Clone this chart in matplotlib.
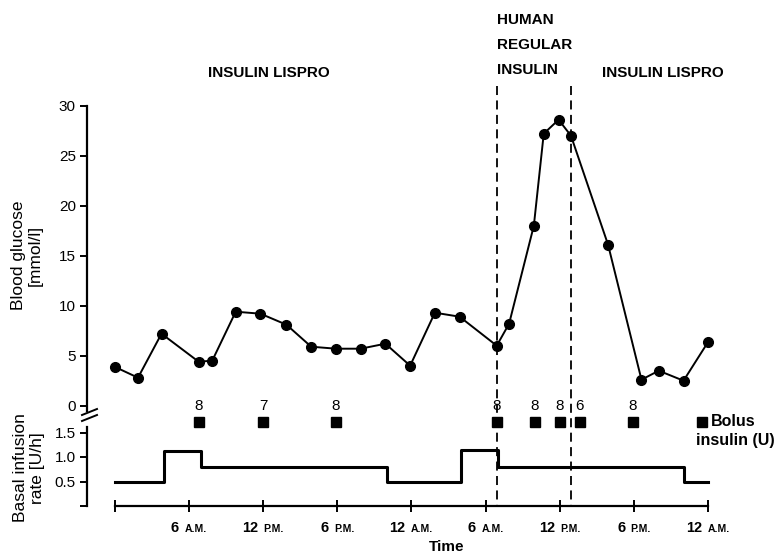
import matplotlib
matplotlib.use("Agg")
import matplotlib.pyplot as plt
from matplotlib.lines import Line2D
from matplotlib.offsetbox import TextArea, HPacker, AnnotationBbox
from matplotlib.transforms import blended_transform_factory

plt.rcParams['font.family'] = ['Liberation Sans', 'DejaVu Sans']

# blood glucose readings (hours from first midnight, mmol/l)
hours = [0, 1.9, 3.8, 6.8, 7.9, 9.8, 11.8, 13.9, 15.9, 17.9, 19.9, 21.9, 23.9,
         25.9, 27.9, 30.9, 31.9, 33.9, 34.7, 35.9, 36.9, 39.9, 42.6, 44.0, 46.0, 48.0]
glucose = [3.9, 2.8, 7.2, 4.4, 4.5, 9.4, 9.2, 8.1, 5.9, 5.7, 5.7, 6.2, 4.0,
           9.3, 8.9, 6.0, 8.2, 18.0, 27.2, 28.6, 27.0, 16.1, 2.6, 3.5, 2.5, 6.4]

# basal infusion rate, step changes (U/h)
basal_t = [0, 4, 7, 22, 28, 31, 46, 48]
basal_r = [0.5, 1.13, 0.8, 0.5, 1.15, 0.8, 0.5, 0.5]

# bolus insulin doses
bolus_t = [6.8, 12, 17.9, 30.9, 34, 36, 37.6, 41.9]
bolus_u = [8, 7, 8, 8, 8, 8, 6, 8]

# period with human regular insulin
switch_t = [30.9, 36.9]

tick_h = [6, 12, 18, 24, 30, 36, 42, 48]
tick_num = ['6', '12', '6', '12', '6', '12', '6', '12']
tick_suf = ['A.M.', 'P.M.', 'P.M.', 'A.M.', 'A.M.', 'P.M.', 'P.M.', 'A.M.']

W, H = 781, 555
fig = plt.figure(figsize=(W / 100, H / 100), dpi=100)

def fx(x):
    return x / W

def fy(y):
    return 1 - y / H

# pixel mapping: x = 114.5 + 12.37*h
x0, sx = 114.5, 12.37
left_px, right_px = 87, 730
xl = ((left_px - x0) / sx, (right_px - x0) / sx)
axw = right_px - left_px

# glucose axes: 0 at y=405.7, 10 px per mmol/l
g0, gs = 405.7, 10.0
top1, bot1 = 100, 412
ax1 = fig.add_axes([fx(left_px), fy(bot1), axw / W, (bot1 - top1) / H])
ax1.set_xlim(xl)
ax1.set_ylim((g0 - bot1) / gs, (g0 - top1) / gs)

# basal axes: 0 at y=506, 49 px per U/h
b0, bs = 506, 49.0
top2 = 395
ax2 = fig.add_axes([fx(left_px), fy(b0), axw / W, (b0 - top2) / H])
ax2.set_xlim(xl)
ax2.set_ylim(0, (b0 - top2) / bs)

for ax in (ax1, ax2):
    ax.patch.set_visible(False)
    for s in ('top', 'right'):
        ax.spines[s].set_visible(False)
    ax.spines['left'].set_linewidth(1.6)

ax1.spines['bottom'].set_visible(False)
ax1.spines['left'].set_bounds((g0 - 411) / gs, 30)
ax1.set_xticks([])
ax1.set_yticks([0, 5, 10, 15, 20, 25, 30])
ax1.tick_params(axis='y', direction='out', length=5, width=1.4, labelsize=11, pad=3)

ax1.plot(hours, glucose, color='black', lw=1.4, marker='o', ms=7, clip_on=False, zorder=3)
ax1.set_ylabel('Blood glucose\n[mmol/l]', fontsize=12.5, linespacing=1.1, va='center')
ax1.yaxis.set_label_coords((27 - left_px) / axw, (bot1 - 255) / (bot1 - top1))

ax2.step(basal_t, basal_r, where='post', color='black', lw=2.2, clip_on=False)
ax2.spines['left'].set_bounds(0, (b0 - 427) / bs)
ax2.spines['bottom'].set_bounds(0, 48)
ax2.spines['bottom'].set_linewidth(1.6)
ax2.set_yticks([0, 0.5, 1.0, 1.5])
ax2.set_yticklabels(['', '0.5', '1.0', '1.5'])
ax2.tick_params(axis='y', direction='out', length=5, width=1.4, labelsize=11, pad=3)
ax2.set_xticks([0] + tick_h)
ax2.set_xticklabels([])
ax2.tick_params(axis='x', direction='inout', length=8, width=1.4)
ax2.set_ylabel('Basal infusion\nrate [U/h]', fontsize=12.5, linespacing=1.1, va='center')
ax2.yaxis.set_label_coords((29 - left_px) / axw, (b0 - 468) / (b0 - top2))

# time tick labels with small caps suffix
for h, n, s in zip(tick_h, tick_num, tick_suf):
    box = HPacker(children=[TextArea(n, textprops=dict(fontsize=10.5, fontweight='bold')),
                            TextArea(s, textprops=dict(fontsize=7.5, fontweight='bold'))],
                  align='baseline', pad=0, sep=4)
    ab = AnnotationBbox(box, (h, 0), xycoords=('data', 'axes fraction'),
                        xybox=(0, -11), boxcoords='offset points',
                        box_alignment=(0.5, 1), frameon=False, annotation_clip=False)
    ax2.add_artist(ab)
fig.text(fx(447), fy(547), 'Time', ha='center', va='center', fontsize=11, fontweight='bold')

# bolus doses
sq_y = (b0 - 422) / bs
ax2.plot(bolus_t, [sq_y] * len(bolus_t), ls='none', marker='s', ms=6.5, color='black', clip_on=False)
for t, u in zip(bolus_t, bolus_u):
    ax2.text(t, (b0 - 413) / bs, str(u), ha='center', va='bottom', fontsize=11)
ax2.plot([(702 - x0) / sx], [sq_y], ls='none', marker='s', ms=7.5, color='black', clip_on=False)
ax2.text((711 - x0) / sx, sq_y, 'Bolus', ha='left', va='center', fontsize=11.5, fontweight='bold')
ax2.text((696 - x0) / sx, (b0 - 441) / bs, 'insulin (U)', ha='left', va='center',
         fontsize=11.5, fontweight='bold')

# dashed lines marking human regular insulin period
tr = blended_transform_factory(ax1.transData, fig.transFigure)
for t in switch_t:
    fig.add_artist(Line2D([t, t], [fy(86), fy(506)], transform=tr, color='black',
                          lw=1.3, ls=(0, (5, 3))))

# axis break marks
for dy in (0, 6):
    fig.add_artist(Line2D([fx(82), fx(97)], [fy(415 + dy), fy(409 + dy)], color='black', lw=1.4))

# treatment labels
hdr = dict(fontsize=11, fontweight='heavy', va='center')
fig.text(fx(269), fy(73), 'INSULIN LISPRO', ha='center', **hdr)
fig.text(fx(663), fy(73), 'INSULIN LISPRO', ha='center', **hdr)
fig.text(fx(497), fy(20), 'HUMAN', ha='left', **hdr)
fig.text(fx(497), fy(45), 'REGULAR', ha='left', **hdr)
fig.text(fx(497), fy(70), 'INSULIN', ha='left', **hdr)

fig.savefig('out.png', dpi=100)
